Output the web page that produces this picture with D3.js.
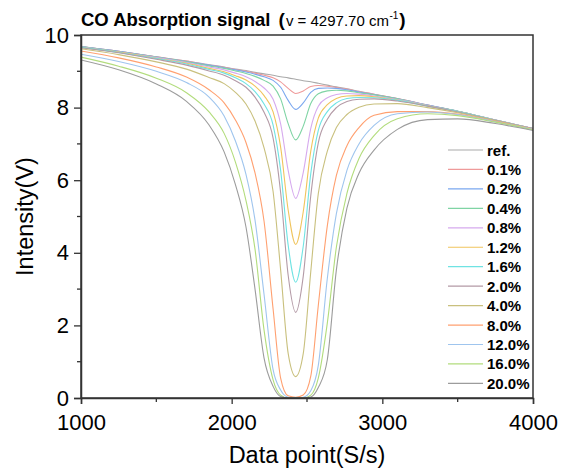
<!DOCTYPE html>
<html><head><meta charset="utf-8">
<script src="https://cdn.jsdelivr.net/npm/d3@7"></script>
<style>body{margin:0;background:#fff}svg{display:block}</style>
</head><body><svg id="c" width="569" height="473"></svg>
<script>
const xPoints = [1000,1250,1500,1700,1850,1950,2025,2095,2155,2215,2275,2325,2375,2425,2475,2525,2575,2635,2695,2765,2845,2945,3100,3300,3500,3750,4000];
const seriesNames = ["ref.","0.1%","0.2%","0.4%","0.8%","1.2%","1.6%","2.0%","4.0%","8.0%","12.0%","16.0%","20.0%"];
const seriesColors = ["#a9a9a9","#ef9a9a","#7aa7ef","#7fd4a4","#d6aaee","#f0c45c","#6fe3e3","#b39aa6","#c9c07e","#ffa070","#9fc5ee","#b2dc7c","#9c9c9c"];
const ref  = [9.68,9.55,9.40,9.28,9.18,9.12,9.06,9.02,8.97,8.93,8.89,8.85,8.82,8.78,8.74,8.71,8.67,8.62,8.57,8.52,8.45,8.37,8.25,8.07,7.90,7.66,7.42];
const c01  = [9.68,9.55,9.40,9.28,9.17,9.11,9.05,9.00,8.95,8.89,8.82,8.71,8.53,8.39,8.46,8.58,8.61,8.59,8.55,8.51,8.44,8.37,8.25,8.07,7.90,7.66,7.42];
const c02  = [9.68,9.55,9.39,9.27,9.17,9.10,9.04,8.98,8.92,8.85,8.75,8.56,8.20,7.95,8.13,8.42,8.53,8.54,8.53,8.49,8.43,8.36,8.24,8.07,7.90,7.66,7.42];
const c04  = [9.68,9.54,9.39,9.26,9.15,9.08,9.01,8.94,8.86,8.75,8.59,8.24,7.56,7.11,7.49,8.11,8.38,8.46,8.48,8.46,8.41,8.35,8.24,8.06,7.90,7.66,7.42];
const c08  = [9.67,9.53,9.38,9.24,9.12,9.04,8.95,8.85,8.72,8.54,8.23,7.55,6.27,5.50,6.21,7.43,8.04,8.27,8.36,8.39,8.37,8.32,8.22,8.06,7.89,7.66,7.42];
const c12  = [9.66,9.53,9.36,9.22,9.08,8.99,8.88,8.76,8.59,8.33,7.88,6.91,5.18,4.23,5.13,6.80,7.71,8.08,8.25,8.32,8.33,8.30,8.21,8.05,7.89,7.65,7.42];
const c16  = [9.66,9.52,9.35,9.20,9.05,8.95,8.82,8.66,8.44,8.10,7.52,6.27,4.21,3.19,4.18,6.18,7.37,7.89,8.13,8.25,8.28,8.27,8.20,8.04,7.89,7.65,7.42];
const c20  = [9.65,9.51,9.33,9.17,9.01,8.89,8.74,8.56,8.29,7.87,7.16,5.66,3.38,2.36,3.35,5.57,7.03,7.68,8.00,8.17,8.23,8.24,8.18,8.04,7.88,7.65,7.42];
const c40  = [9.62,9.46,9.26,9.06,8.83,8.66,8.42,8.10,7.63,6.89,5.69,3.53,1.23,0.59,1.22,3.48,5.63,6.80,7.45,7.81,8.01,8.10,8.11,8.00,7.86,7.64,7.41];
const c80  = [9.56,9.37,9.12,8.84,8.49,8.13,7.66,7.04,6.20,4.87,2.45,0.55,0.06,0.02,0.08,0.60,2.55,4.75,6.13,6.95,7.45,7.79,7.89,7.89,7.82,7.62,7.41];
const c120 = [9.47,9.27,9.00,8.69,8.29,7.77,7.08,6.16,4.90,2.85,0.78,0.22,0.02,0.00,0.02,0.20,0.90,3.30,5.08,6.27,7.00,7.51,7.83,7.88,7.81,7.61,7.40];
const c160 = [9.39,9.14,8.81,8.41,7.88,7.29,6.50,5.44,4.10,1.87,0.50,0.08,0.00,0.00,0.00,0.08,0.55,2.07,4.16,5.64,6.60,7.23,7.69,7.83,7.78,7.60,7.39];
const c200 = [9.31,9.04,8.65,8.17,7.52,6.78,5.88,4.71,3.00,1.10,0.32,0.04,0.00,0.00,0.00,0.03,0.29,1.06,3.53,5.23,6.19,6.83,7.40,7.67,7.69,7.56,7.37];
const seriesValues = [ref,c01,c02,c04,c08,c12,c16,c20,c40,c80,c120,c160,c200];
const xTicks = [1000,2000,3000,4000];
const yTicks = [0,2,4,6,8,10];

const FONT = "'Liberation Sans', Arial, sans-serif";
const svg = d3.select("#c");
const L = 81, R = 533, T = 35, B = 398;
const x = d3.scaleLinear().domain([1000,4000]).range([L,R]);
const y = d3.scaleLinear().domain([0,10]).range([B,T]);

svg.append("clipPath").attr("id","pc").append("rect")
  .attr("x",L).attr("y",T-1).attr("width",R-L).attr("height",B-T+1);

const line = d3.line().x((d,i)=>x(xPoints[i])).y(d=>y(d)).curve(d3.curveMonotoneX);
const g = svg.append("g").attr("clip-path","url(#pc)");
seriesValues.forEach((vals,k)=>{
  g.append("path").datum(vals).attr("d",line)
   .attr("fill","none").attr("stroke",seriesColors[k]).attr("stroke-width",1.1);
});

// frame
svg.append("rect").attr("x",L).attr("y",T).attr("width",R-L).attr("height",B-T)
  .attr("fill","none").attr("stroke","#333").attr("stroke-width",1.5);

// axes
const xAxis = d3.axisBottom(x).tickValues(xTicks).tickFormat(d3.format("d")).tickSize(6).tickPadding(10);
const xg = svg.append("g").attr("transform",`translate(0,${B})`).call(xAxis);
const yAxis = d3.axisLeft(y).tickValues(yTicks).tickFormat(d3.format("d")).tickSize(7).tickPadding(5);
const yg = svg.append("g").attr("transform",`translate(${L},0)`).call(yAxis);
[xg,yg].forEach(a=>{
  a.select(".domain").attr("stroke","#333").attr("stroke-width",1.5);
  a.selectAll(".tick line").attr("stroke","#333").attr("stroke-width",1.3);
  a.selectAll(".tick text").attr("font-family",FONT).attr("font-size",22).attr("fill","#000");
});
// minor ticks
svg.append("g").selectAll("line").data([1500,2500,3500]).join("line")
  .attr("x1",d=>x(d)).attr("x2",d=>x(d)).attr("y1",B).attr("y2",B+4)
  .attr("stroke","#333").attr("stroke-width",1.3);
svg.append("g").selectAll("line").data([1,3,5,7,9]).join("line")
  .attr("y1",d=>y(d)).attr("y2",d=>y(d)).attr("x1",L).attr("x2",L-4)
  .attr("stroke","#333").attr("stroke-width",1.3);

// axis titles
svg.append("text").attr("x",(L+R)/2).attr("y",463).attr("text-anchor","middle")
  .attr("font-family",FONT).attr("font-size",23.5).text("Data point(S/s)");
svg.append("text").attr("transform",`translate(33,${(T+B)/2}) rotate(-90)`).attr("text-anchor","middle")
  .attr("font-family",FONT).attr("font-size",23.5).text("Intensity(V)");

// title
const t = svg.append("text").attr("x",81).attr("y",26).attr("font-family",FONT).attr("fill","#000");
t.append("tspan").attr("font-size",18.5).attr("font-weight","bold").text("CO Absorption signal ");
t.append("tspan").attr("font-size",19).attr("font-weight","bold").attr("dx",3).text("(");
t.append("tspan").attr("font-size",15).attr("dx",1).text("v = 4297.70 cm");
t.append("tspan").attr("font-size",10).attr("dy",-7).attr("dx",0.5).text("-1");
t.append("tspan").attr("font-size",19).attr("font-weight","bold").attr("dy",7).attr("dx",1).text(")");

// legend
const lg = svg.append("g");
seriesNames.forEach((n,k)=>{
  const cy = 150 + k*19.45;
  lg.append("line").attr("x1",448).attr("x2",483).attr("y1",cy).attr("y2",cy)
    .attr("stroke",seriesColors[k]).attr("stroke-width",1.2);
  lg.append("text").attr("x",487).attr("y",cy+5.5).attr("font-family",FONT)
    .attr("font-size",15).attr("font-weight","bold").text(n);
});
</script></body></html>
